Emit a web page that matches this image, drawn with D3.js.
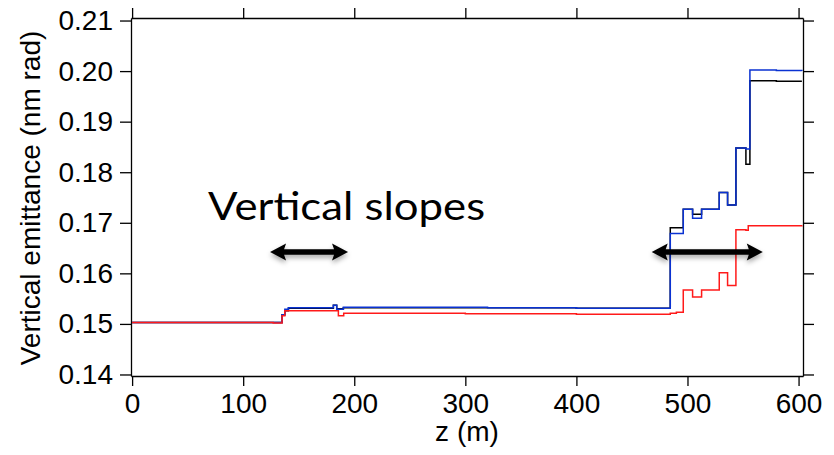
<!DOCTYPE html>
<html>
<head>
<meta charset="utf-8">
<script src="https://cdn.jsdelivr.net/npm/d3@7"></script>
<style>
  body { margin: 0; background: #fff; }
  svg { display: block; }
</style>
</head>
<body>
<div id="viz"></div>
<script>
// step positions (m) and emittance levels (nm rad)
const zBlue = [0, 135, 137.5, 140.7, 181.2, 184.2, 190.2, 320, 400, 484.5, 496.2, 504.6, 512.7, 528.6, 536.1, 543.6, 552.6, 556.2, 580, 603];
const epsBlue = [0.1503, 0.1518, 0.1529, 0.1532, 0.1537, 0.1529, 0.1533, 0.1532, 0.1531, 0.1679, 0.1727, 0.1709, 0.1727, 0.1760, 0.1735, 0.1848, 0.1846, 0.2002, 0.2001, 0.2000];

const zBlack = [0, 135, 137.5, 140.7, 181.2, 184.2, 190.2, 320, 400, 484.5, 496.2, 504.6, 512.7, 528.6, 536.1, 543.6, 552.6, 556.2, 580, 603];
const epsBlack = [0.1503, 0.1518, 0.1526, 0.1531, 0.1537, 0.1530, 0.1532, 0.1532, 0.1531, 0.1690, 0.1727, 0.1717, 0.1727, 0.1760, 0.1735, 0.1848, 0.1816, 0.1981, 0.1980, 0.1980];

const zRed = [0, 127, 135, 137.5, 185.7, 190.5, 300, 400, 484.5, 490, 496.2, 504.6, 512.7, 528.6, 536.1, 543.6, 552.6, 554.7, 603];
const epsRed = [0.1503, 0.1502, 0.1516, 0.1526, 0.1516, 0.1521, 0.1520, 0.1519, 0.1521, 0.1523, 0.1567, 0.1553, 0.1567, 0.1601, 0.1576, 0.1686, 0.1685, 0.1694, 0.1695];

const xTicks = [0, 100, 200, 300, 400, 500, 600];
const yTicks = [0.14, 0.15, 0.16, 0.17, 0.18, 0.19, 0.20, 0.21];

// annotation text and arrows (z range, emittance level)
const noteText = "Vertical slopes";
const arrowSpans = [[124.2, 194.4], [467.8, 567.8]];

const width = 834;
const height = 455;
const margin = {top: 18, right: 31, bottom: 79, left: 131};

const svg = d3.select("#viz").append("svg")
    .attr("width", width)
    .attr("height", height);

const x = d3.scaleLinear()
    .domain([-1, 604])
    .range([margin.left, width - margin.right]);

const y = d3.scaleLinear()
    .domain([0.13970, 0.2105])
    .range([height - margin.bottom, margin.top]);

const defs = svg.append("defs");
defs.append("clipPath").attr("id", "clip")
    .append("rect")
    .attr("x", margin.left).attr("y", margin.top)
    .attr("width", width - margin.left - margin.right)
    .attr("height", height - margin.top - margin.bottom);

const shadow = defs.append("filter").attr("id", "shadow")
    .attr("x", "-20%").attr("y", "-60%").attr("width", "140%").attr("height", "260%");
shadow.append("feDropShadow")
    .attr("dx", 0).attr("dy", 3).attr("stdDeviation", 2.5)
    .attr("flood-color", "#000").attr("flood-opacity", 0.35);

const font = "'Liberation Sans', Arial, Helvetica, sans-serif";

// axes: labelled left and bottom, mirrored ticks on top and right
const styleAxis = g => {
    g.select(".domain").attr("stroke", "#000").attr("stroke-width", 1.3);
    g.selectAll(".tick line").attr("stroke", "#000").attr("stroke-width", 1.3);
    g.selectAll("text").attr("font-family", font).attr("font-size", "28px").attr("fill", "#000");
};

svg.append("g")
    .attr("transform", `translate(${margin.left},0)`)
    .call(d3.axisLeft(y).tickValues(yTicks).tickFormat(d3.format(".2f")).tickSize(11).tickPadding(7).tickSizeOuter(0))
    .call(styleAxis);

svg.append("g")
    .attr("transform", `translate(0,${height - margin.bottom})`)
    .call(d3.axisBottom(x).tickValues(xTicks).tickFormat(d3.format("d")).tickSize(10).tickPadding(7).tickSizeOuter(0))
    .call(styleAxis);

svg.append("g")
    .attr("transform", `translate(0,${margin.top})`)
    .call(d3.axisTop(x).tickValues(xTicks).tickFormat("").tickSize(10).tickSizeOuter(0))
    .call(styleAxis);

svg.append("g")
    .attr("transform", `translate(${width - margin.right},0)`)
    .call(d3.axisRight(y).tickValues(yTicks).tickFormat("").tickSize(11).tickSizeOuter(0))
    .call(styleAxis);

// curves
const line = d3.line()
    .x(d => x(d[0]))
    .y(d => y(d[1]))
    .curve(d3.curveStepAfter);

const series = [
    {z: zBlack, eps: epsBlack, color: "#000000"},
    {z: zBlue, eps: epsBlue, color: "#0a32d2"},
    {z: zRed, eps: epsRed, color: "#ff1a1a"}
];

const plot = svg.append("g").attr("clip-path", "url(#clip)");
series.forEach(s => {
    plot.append("path")
        .datum(s.z.map((z, i) => [z, s.eps[i]]))
        .attr("d", line)
        .attr("fill", "none")
        .attr("stroke", s.color)
        .attr("stroke-width", 1.5);
});

// annotation
svg.append("text")
    .attr("x", x(68.4))
    .attr("y", y(0.17055))
    .attr("font-family", "Lato, 'Open Sans', sans-serif")
    .attr("font-size", "38px")
    .attr("textLength", 277)
    .attr("lengthAdjust", "spacingAndGlyphs")
    .attr("fill", "#000")
    .text(noteText);

const arrowY = y(0.16422);
arrowSpans.forEach(([z0, z1]) => {
    const x0 = x(z0), x1 = x(z1);
    const head = 16, half = 8.5, shaft = 2.7;
    const pts = [
        [x0, arrowY],
        [x0 + head, arrowY - half],
        [x0 + head - 2, arrowY - shaft],
        [x1 - head + 2, arrowY - shaft],
        [x1 - head, arrowY - half],
        [x1, arrowY],
        [x1 - head, arrowY + half],
        [x1 - head + 2, arrowY + shaft],
        [x0 + head - 2, arrowY + shaft],
        [x0 + head, arrowY + half]
    ];
    svg.append("polygon")
        .attr("points", pts.map(p => p.join(",")).join(" "))
        .attr("fill", "#000")
        .attr("filter", "url(#shadow)");
});

// axis titles
svg.append("text")
    .attr("x", (margin.left + width - margin.right) / 2)
    .attr("y", 441)
    .attr("text-anchor", "middle")
    .attr("font-family", font)
    .attr("font-size", "28px")
    .text("z (m)");

svg.append("text")
    .attr("transform", `translate(40,${(margin.top + height - margin.bottom) / 2 + 1}) rotate(-90)`)
    .attr("text-anchor", "middle")
    .attr("font-family", font)
    .attr("font-size", "28px")
    .text("Vertical emittance (nm rad)");
</script>
</body>
</html>
